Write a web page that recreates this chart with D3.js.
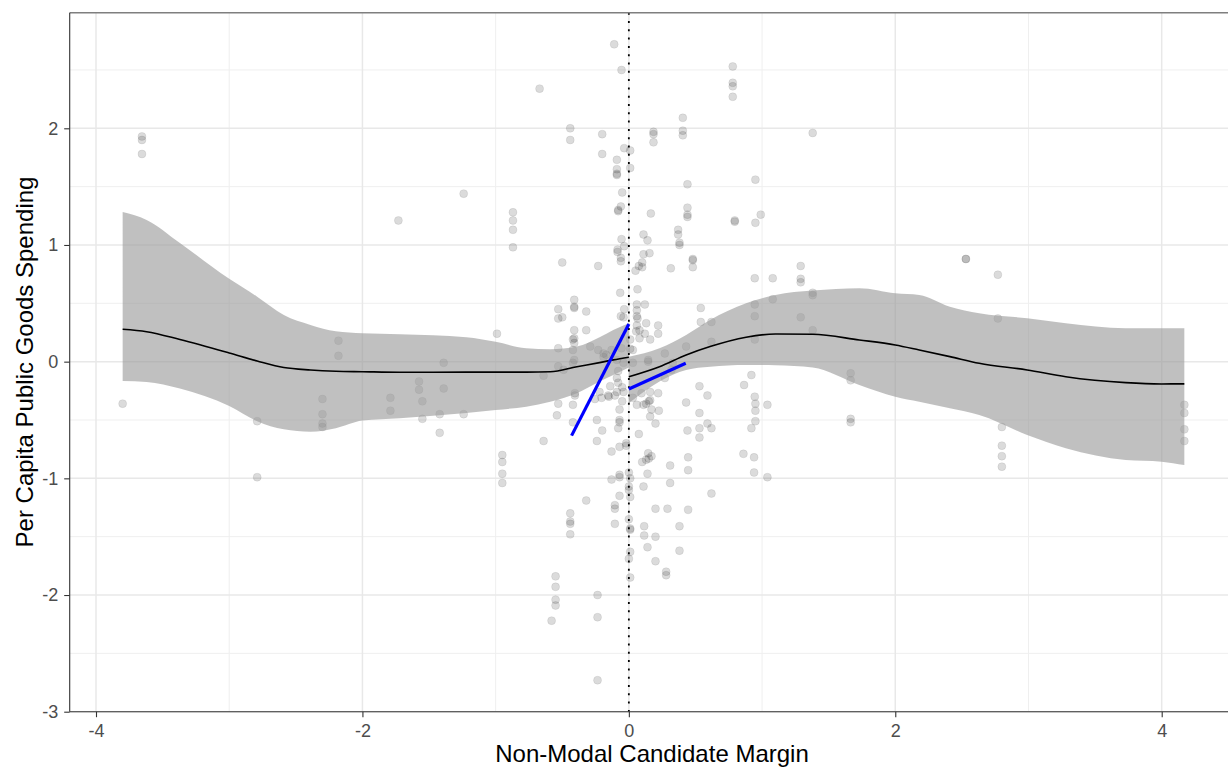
<!DOCTYPE html>
<html>
<head>
<meta charset="utf-8">
<script src="https://cdn.jsdelivr.net/npm/d3@7"></script>
<style>
  html, body { margin: 0; padding: 0; background: #fff; }
  svg { display: block; font-family: "Liberation Sans", Arial, sans-serif; }
</style>
</head>
<body>
<svg id="chart" width="1228" height="769"></svg>
<script>
// Observations: [margin, spending]
const points = [
  [-3.80,-0.36],
  [-3.655,1.93],[-3.655,1.90],[-3.655,1.78],
  [-2.79,-0.51],[-2.79,-0.99],
  [-2.30,-0.32],[-2.30,-0.45],[-2.30,-0.53],[-2.30,-0.56],
  [-2.18,0.18],[-2.18,0.05],
  [-1.79,-0.31],[-1.79,-0.42],
  [-1.73,1.21],
  [-1.575,-0.17],[-1.575,-0.24],
  [-1.55,-0.34],[-1.55,-0.49],
  [-1.42,-0.45],[-1.42,-0.61],
  [-1.39,-0.01],[-1.39,-0.23],
  [-1.24,-0.45],[-1.24,1.44],
  [-0.99,0.24],
  [-0.95,-0.80],[-0.95,-0.86],[-0.95,-0.96],[-0.95,-1.04],
  [-0.87,1.28],[-0.87,1.21],[-0.87,1.13],[-0.87,0.98],
  [-0.67,2.34],
  [-0.64,-0.12],[-0.64,-0.68],
  [-0.58,-2.22],[-0.55,-1.84],[-0.55,-1.93],[-0.55,-2.04],[-0.55,-2.09],
  [-0.53,0.45],[-0.53,0.37],[-0.50,0.38],[-0.53,0.115],[-0.53,-0.04],[-0.49,-0.07],[-0.53,-0.36],[-0.54,-0.46],
  [-0.50,0.85],
  [-0.44,2.00],[-0.44,1.90],
  [-0.44,-1.30],[-0.44,-1.37],[-0.44,-1.39],[-0.44,-1.48],
  [-0.41,0.53],[-0.41,0.47],[-0.41,0.46],[-0.41,0.27],[-0.41,0.20],[-0.42,0.19],[-0.41,0.16],[-0.42,0.10],[-0.41,0.015],[-0.42,-0.01],
  [-0.405,-0.27],[-0.405,-0.29],[-0.42,-0.37],[-0.42,-0.52],
  [-0.32,0.43],[-0.32,0.27],[-0.32,-1.19],
  [-0.29,0.13],[-0.23,0.10],[-0.19,0.07],[-0.17,0.06],
  [-0.255,-0.32],[-0.205,-0.31],[-0.22,-0.26],[-0.24,-0.50],[-0.24,-0.68],[-0.20,-0.59],
  [-0.235,-2.00],[-0.235,-2.19],[-0.235,-2.73],
  [-0.23,0.82],
  [-0.20,1.95],[-0.20,1.78],
  [-0.155,-0.29],[-0.14,-0.21],[-0.15,-0.30],
  [-0.13,-0.77],[-0.13,-1.01],
  [-0.13,0.10],[-0.19,0.04],
  [-0.11,2.72],
  [-0.105,-0.29],[-0.105,-1.23],[-0.105,-1.26],[-0.105,-1.39],
  [-0.09,1.73],[-0.09,1.65],[-0.09,1.61],[-0.09,1.60],
  [-0.09,-0.14],[-0.09,-0.26],[-0.09,0.015],
  [-0.085,0.96],[-0.085,0.94],
  [-0.08,1.30],[-0.08,1.29],[-0.06,1.33],
  [-0.08,-0.08],[-0.08,-0.18],[-0.08,-0.57],
  [-0.07,-0.41],[-0.07,-0.50],[-0.07,-0.52],[-0.07,-0.73],[-0.07,-0.99],[-0.07,-0.97],[-0.07,-1.15],
  [-0.065,0.59],
  [-0.06,0.89],[-0.06,0.86],[-0.06,0.39],
  [-0.055,2.50],[-0.055,1.05],[-0.055,0.115],
  [-0.05,1.45],[-0.05,-0.22],[-0.05,-0.34],
  [-0.04,0.38],[-0.04,-0.01],[-0.04,-0.26],
  [-0.035,1.83],[-0.035,0.99],[-0.035,0.45],
  [-0.02,-0.70],[-0.02,-0.72],
  [0.0,-0.95],[0.0,-1.07],[0.0,-1.10],[0.0,-1.35],[0.0,-1.69],
  [0.01,1.81],[0.01,1.66],[0.01,-1.00],[0.01,-1.16],[0.01,-1.43],[0.01,-1.44],[0.01,-1.63],[0.01,-1.85],
  [0.01,0.19],[0.01,0.11],[0.03,0.10],[0.03,-0.01],[0.03,-0.31],
  [0.05,0.78],
  [0.055,0.26],[0.06,0.49],[0.06,0.44],[0.06,0.39],[0.065,0.37],[0.06,0.31],[0.06,-0.37],
  [0.065,0.62],
  [0.075,0.82],[0.075,-0.62],
  [0.08,0.27],[0.08,0.20],
  [0.095,-0.27],
  [0.10,0.85],[0.10,0.81],[0.10,-0.86],
  [0.11,1.09],[0.11,0.92],[0.11,-0.37],[0.11,-1.07],
  [0.115,-1.41],[0.115,-1.49],
  [0.12,0.49],[0.12,0.24],
  [0.13,0.33],[0.13,-0.36],[0.13,-0.84],
  [0.14,1.04],[0.14,-0.96],[0.14,-1.59],
  [0.145,0.015],[0.145,0.0],[0.145,-0.785],
  [0.15,-0.34],[0.15,-0.83],
  [0.155,0.93],
  [0.165,1.27],[0.16,0.19],[0.16,-0.26],[0.16,-0.33],[0.16,-0.47],
  [0.17,-0.41],[0.17,-0.81],
  [0.185,1.97],[0.185,1.95],[0.185,1.88],
  [0.20,-0.53],[0.20,-1.26],[0.20,-1.50],[0.20,-1.71],
  [0.22,0.31],[0.22,0.24],[0.22,-0.27],[0.225,-0.42],
  [0.27,0.07],[0.27,-0.14],
  [0.28,-1.80],[0.28,-1.83],
  [0.29,-1.26],
  [0.31,-0.89],[0.31,-1.04],
  [0.315,0.80],
  [0.32,-0.07],[0.33,-0.01],
  [0.37,1.13],[0.37,1.09],[0.38,1.02],[0.38,1.00],
  [0.38,-1.41],[0.38,-1.62],
  [0.405,2.09],[0.405,1.98],[0.405,1.94],
  [0.43,0.13],[0.43,-0.35],
  [0.44,1.52],[0.44,1.32],[0.44,1.26],[0.44,1.24],
  [0.44,-0.59],
  [0.445,-0.82],[0.445,-0.93],[0.445,-1.27],
  [0.48,0.88],[0.48,0.87],[0.48,0.81],
  [0.53,-0.21],[0.53,-0.44],[0.53,-0.57],[0.53,-0.65],
  [0.54,0.46],[0.54,0.34],
  [0.59,-0.29],[0.59,-0.53],
  [0.62,0.34],[0.62,0.17],[0.62,-0.57],[0.62,-1.13],
  [0.78,2.53],[0.78,2.39],[0.78,2.36],[0.78,2.27],
  [0.795,1.21],[0.795,1.20],
  [0.86,-0.79],[0.865,-0.20],
  [0.92,-0.115],[0.92,-0.57],
  [0.94,-0.82],[0.94,-0.95],
  [0.945,0.715],[0.945,0.49],[0.945,0.39],[0.945,0.19],[0.945,-0.30],
  [0.95,1.56],[0.95,1.19],[0.95,-0.36],[0.95,-0.42],[0.95,-0.51],
  [0.99,1.26],
  [1.04,-0.37],[1.04,-0.99],
  [1.08,0.715],[1.08,0.535],
  [1.29,0.82],[1.29,0.71],[1.29,0.68],[1.29,0.38],
  [1.38,1.96],[1.38,0.59],[1.38,0.57],[1.38,0.27],
  [1.665,-0.10],[1.665,-0.16],[1.665,-0.49],[1.665,-0.52],
  [2.53,0.88],[2.53,0.88],
  [2.77,0.745],[2.77,0.37],
  [2.80,-0.56],[2.80,-0.72],[2.80,-0.81],[2.80,-0.90],
  [4.17,-0.37],[4.17,-0.44],[4.17,-0.58],[4.17,-0.68]
];

// Loess fit below the cutoff
const leftX     = [-3.80,-3.62,-3.37,-3.0,-2.79,-2.59,-2.39,-2.2,-2.0,-1.72,-1.22,-1.0,-0.77,-0.59,-0.39,-0.22,-0.117,0];
const leftFit   = [0.278,0.257,0.19,0.075,0.006,-0.05,-0.071,-0.082,-0.086,-0.091,-0.09,-0.09,-0.09,-0.086,-0.043,-0.008,0.015,0.038];
const leftUpper = [1.283,1.215,1.017,0.71,0.557,0.40,0.315,0.26,0.243,0.235,0.209,0.17,0.115,0.106,0.129,0.209,0.272,0.329];
const leftLower = [-0.165,-0.174,-0.23,-0.38,-0.51,-0.58,-0.60,-0.57,-0.505,-0.485,-0.44,-0.414,-0.386,-0.343,-0.271,-0.171,-0.114,-0.05];

// Loess fit above the cutoff
const rightX     = [0,0.23,0.43,0.61,0.88,1.10,1.38,1.73,2.0,2.18,2.41,2.63,2.99,3.28,3.73,4.0,4.17];
const rightFit   = [-0.129,-0.043,0.057,0.129,0.209,0.237,0.235,0.186,0.143,0.10,0.043,-0.014,-0.071,-0.129,-0.18,-0.191,-0.19];
const rightUpper = [0.043,0.115,0.229,0.357,0.50,0.572,0.609,0.629,0.586,0.572,0.471,0.415,0.372,0.329,0.286,0.286,0.286];
const rightLower = [-0.357,-0.17,-0.071,-0.043,-0.028,-0.03,-0.05,-0.2,-0.30,-0.343,-0.40,-0.457,-0.628,-0.742,-0.843,-0.857,-0.886];

// Local linear fits on each side of the cutoff
const rdLeftX = [-0.43, 0], rdLeftY = [-0.634, 0.323];
const rdRightX = [0, 0.427], rdRightY = [-0.234, -0.014];

const xTicks = [-4, -2, 0, 2, 4];
const xMinor = [-3, -1, 1, 3];
const yTicks = [-3, -2, -1, 0, 1, 2];
const yMinor = [-2.5, -1.5, -0.5, 0.5, 1.5, 2.5];

const xTitle = "Non-Modal Candidate Margin";
const yTitle = "Per Capita Public Goods Spending";

const svg = d3.select("#chart");
const W = 1228, H = 769;

const x = d3.scaleLinear().domain([-4, 4]).range([96, 1161.7]);
const y = d3.scaleLinear().domain([-3, 2]).range([711.7, 128.3]);

const panel = { left: 69.7, top: 12.7, right: 1240, bottom: 711.7 };

svg.append("defs").append("clipPath").attr("id", "panelClip")
  .append("rect")
  .attr("x", panel.left).attr("y", panel.top)
  .attr("width", panel.right - panel.left).attr("height", panel.bottom - panel.top);

// Grid
const grid = svg.append("g");
grid.selectAll(".xminor").data(xMinor).join("line")
  .attr("x1", d => x(d)).attr("x2", d => x(d))
  .attr("y1", panel.top).attr("y2", panel.bottom)
  .attr("stroke", "#EFEFEF").attr("stroke-width", 1);
grid.selectAll(".yminor").data(yMinor).join("line")
  .attr("y1", d => y(d)).attr("y2", d => y(d))
  .attr("x1", panel.left).attr("x2", panel.right)
  .attr("stroke", "#EFEFEF").attr("stroke-width", 1);
grid.selectAll(".xmajor").data(xTicks).join("line")
  .attr("x1", d => x(d)).attr("x2", d => x(d))
  .attr("y1", panel.top).attr("y2", panel.bottom)
  .attr("stroke", "#E8E8E8").attr("stroke-width", 1.5);
grid.selectAll(".ymajor").data(yTicks).join("line")
  .attr("y1", d => y(d)).attr("y2", d => y(d))
  .attr("x1", panel.left).attr("x2", panel.right)
  .attr("stroke", "#E8E8E8").attr("stroke-width", 1.5);

const plot = svg.append("g").attr("clip-path", "url(#panelClip)");

// Points
plot.append("g").selectAll("circle").data(points).join("circle")
  .attr("cx", d => x(d[0])).attr("cy", d => y(d[1])).attr("r", 4)
  .attr("fill", "#000").attr("fill-opacity", 0.14)
  .attr("stroke", "#000").attr("stroke-opacity", 0.1).attr("stroke-width", 0.7);

// Confidence bands and loess curves
const area = d3.area().x(d => x(d.x)).y0(d => y(d.lo)).y1(d => y(d.hi)).curve(d3.curveMonotoneX);
const line = d3.line().x(d => x(d.x)).y(d => y(d.y)).curve(d3.curveMonotoneX);

function side(xs, fit, hi, lo) {
  return xs.map((v, i) => ({ x: v, y: fit[i], hi: hi[i], lo: lo[i] }));
}
const sides = [
  side(leftX, leftFit, leftUpper, leftLower),
  side(rightX, rightFit, rightUpper, rightLower)
];
sides.forEach(s => {
  plot.append("path").datum(s).attr("d", area)
    .attr("fill", "#999999").attr("fill-opacity", 0.62);
});
sides.forEach(s => {
  plot.append("path").datum(s).attr("d", line)
    .attr("fill", "none").attr("stroke", "#000").attr("stroke-width", 1.6);
});

// Cutoff
plot.append("line")
  .attr("x1", x(0)).attr("x2", x(0))
  .attr("y1", panel.top).attr("y2", panel.bottom)
  .attr("stroke", "#000").attr("stroke-width", 1.8)
  .attr("stroke-dasharray", "2 6.3");

// Local linear fits
[[rdLeftX, rdLeftY], [rdRightX, rdRightY]].forEach(([xs, ys]) => {
  plot.append("path").datum(xs.map((v, i) => [v, ys[i]]))
    .attr("d", d3.line().x(d => x(d[0])).y(d => y(d[1])))
    .attr("fill", "none").attr("stroke", "#0000FF").attr("stroke-width", 3.2);
});

// Panel border (top) and axes
svg.append("line")
  .attr("x1", panel.left).attr("x2", panel.right)
  .attr("y1", panel.top).attr("y2", panel.top)
  .attr("stroke", "#7F7F7F").attr("stroke-width", 1.4);

const xAxis = svg.append("g").attr("transform", `translate(0,${panel.bottom})`)
  .call(d3.axisBottom(x).tickValues(xTicks).tickSize(5.5).tickPadding(7.5).tickFormat(d3.format("d")));
const yAxis = svg.append("g").attr("transform", `translate(${panel.left},0)`)
  .call(d3.axisLeft(y).tickValues(yTicks).tickSize(5.5).tickPadding(6).tickFormat(d3.format("d")));

[xAxis, yAxis].forEach(a => {
  a.select(".domain").remove();
  a.selectAll(".tick line").attr("stroke", "#333").attr("stroke-width", 1.1);
  a.selectAll(".tick text").attr("fill", "#4D4D4D").attr("font-size", 18)
    .attr("font-family", "'Liberation Sans', Arial, sans-serif");
});
xAxis.selectAll(".tick text").text(d => d < 0 ? "-" + Math.abs(d) : d);
yAxis.selectAll(".tick text").text(d => d < 0 ? "-" + Math.abs(d) : d);

svg.append("line")
  .attr("x1", panel.left).attr("x2", panel.left)
  .attr("y1", panel.top).attr("y2", panel.bottom)
  .attr("stroke", "#333").attr("stroke-width", 1.1);
svg.append("line")
  .attr("x1", panel.left).attr("x2", W)
  .attr("y1", panel.bottom).attr("y2", panel.bottom)
  .attr("stroke", "#333").attr("stroke-width", 1.1);

// Titles
svg.append("text")
  .attr("x", 652).attr("y", 762)
  .attr("text-anchor", "middle")
  .attr("font-size", 24).attr("fill", "#000")
  .text(xTitle);
svg.append("text")
  .attr("transform", `translate(33,362) rotate(-90)`)
  .attr("text-anchor", "middle")
  .attr("font-size", 24).attr("fill", "#000")
  .text(yTitle);
</script>
</body>
</html>
